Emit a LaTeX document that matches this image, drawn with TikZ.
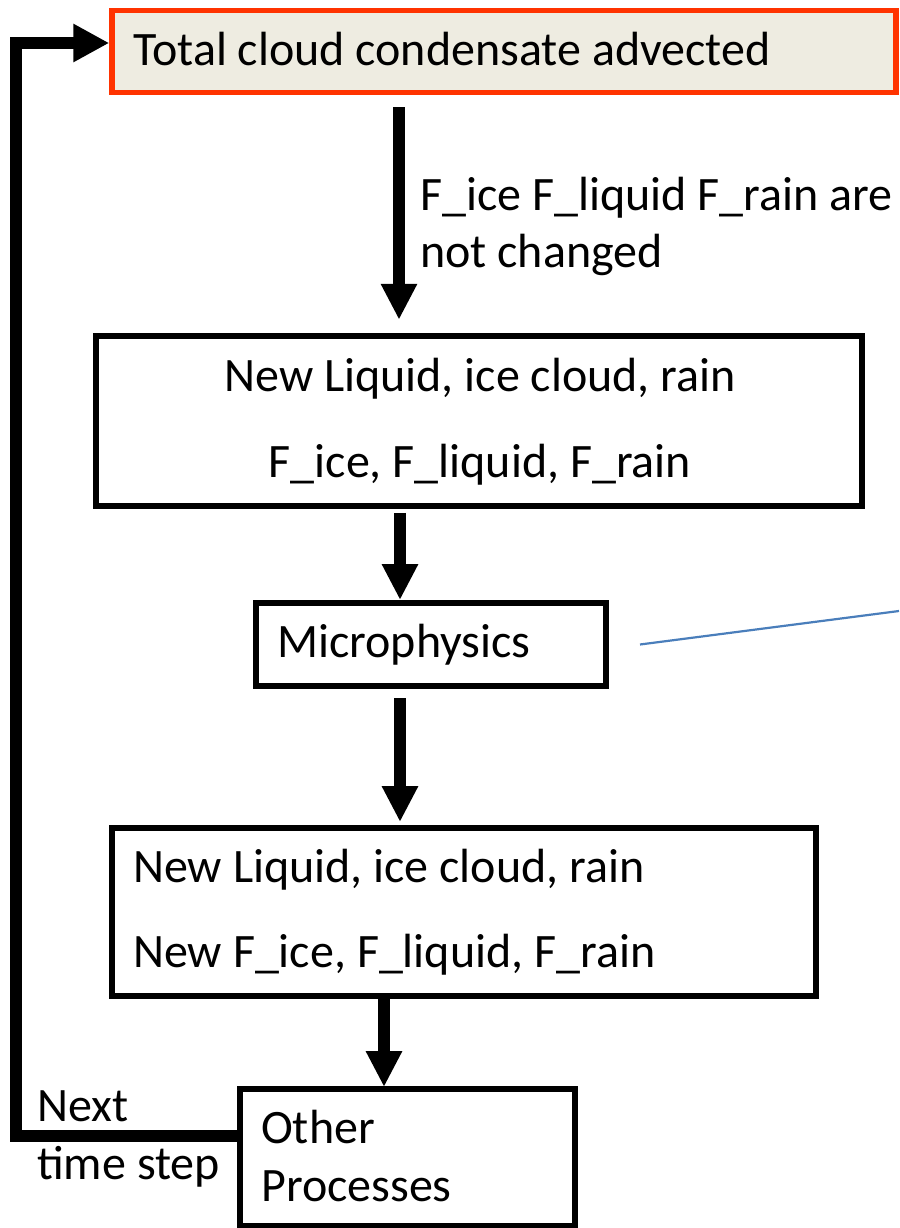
\documentclass[tikz,border=0pt]{standalone}
\usepackage{fontspec}
\setmainfont{Carlito}
\usetikzlibrary{arrows.meta,calc}
\definecolor{boxfill}{HTML}{EEECE1}
\definecolor{boxedge}{HTML}{FF3300}
\definecolor{leader}{HTML}{4A7EBB}
\begin{document}
\begin{tikzpicture}[x=1pt,y=-1pt,
  txt/.style={font=\fontsize{48}{58}\selectfont, inner sep=0pt},
  stepbox/.style={draw, line width=6pt, inner sep=0pt},
  flow/.style={line width=11.5pt, -{Triangle[width=34pt,length=36pt]}},
  loop/.style={line width=12pt, line join=miter, -{Triangle[width=36pt,length=36pt]}},
]
\useasboundingbox (0,0) rectangle (899,1228);

% boxes
\node[draw=boxedge, fill=boxfill, line width=5.5pt, inner sep=0pt,
      minimum width=784pt, minimum height=82pt] (adv) at (504,51.5) {};
\node[stepbox, minimum width=766pt, minimum height=169.5pt] (newA) at (479,421) {};
\node[stepbox, minimum width=350pt, minimum height=83pt] (micro) at (431,644.5) {};
\node[stepbox, minimum width=704pt, minimum height=168pt] (newB) at (464,912) {};
\node[stepbox, minimum width=335pt, minimum height=137pt] (other) at (407.5,1157.5) {};

% texts
\node[txt, anchor=base west] (advT) at (133,66) {Total cloud condensate advected};
\node[txt, anchor=base west] (lab1) at (420,210) {F\_ice F\_liquid F\_rain are};
\node[txt, anchor=base west] (lab2) at (420,267) {not changed};
\node[txt, anchor=base] (newA1) at (480,391) {New Liquid, ice cloud, rain};
\node[txt, anchor=base] (newA2) at (480,477) {F\_ice, F\_liquid, F\_rain};
\node[txt, anchor=base west] (microT) at (277,657) {Microphysics};
\node[txt, anchor=base west] (newB1) at (133,882) {New Liquid, ice cloud, rain};
\node[txt, anchor=base west] (newB2) at (133,967) {New F\_ice, F\_liquid, F\_rain};
\node[txt, anchor=base west] (otherT1) at (261,1143) {Other};
\node[txt, anchor=base west] (otherT2) at (261,1201) {Processes};
\node[txt, anchor=base west] (next1) at (37,1121) {Next};
\node[txt, anchor=base west] (next2) at (37,1179) {time step};

% flow arrows
\coordinate (c1) at (399,0);
\coordinate (c2) at (400,0);
\coordinate (c4) at (384,0);
\draw[flow, shorten <=12pt, shorten >=13.5pt] (adv.south -| c1) -- (newA.north -| c1);
\draw[flow, shorten <=4pt] (newA.south -| c2) -- (micro.north -| c2);
\draw[flow, shorten <=9pt, shorten >=3pt] (micro.south -| c2) -- (newB.north -| c2);
\draw[flow, shorten <=-6pt, shorten >=-1pt] (newB.south -| c4) -- (other.north -| c4);

% loop back to the start of the next time step
\coordinate (lb) at (16,1136);
\coordinate (lt) at (16,43);
\draw[loop] ($(other.west)+(0,-21.5)$) -- (lb) -- (lt) -- (adv.west |- lt);

% leader line
\coordinate (leadEnd) at (899,611);
\draw[leader, line width=2.2pt] (micro.east) ++(31pt,0) -- (leadEnd);
\end{tikzpicture}
\end{document}
